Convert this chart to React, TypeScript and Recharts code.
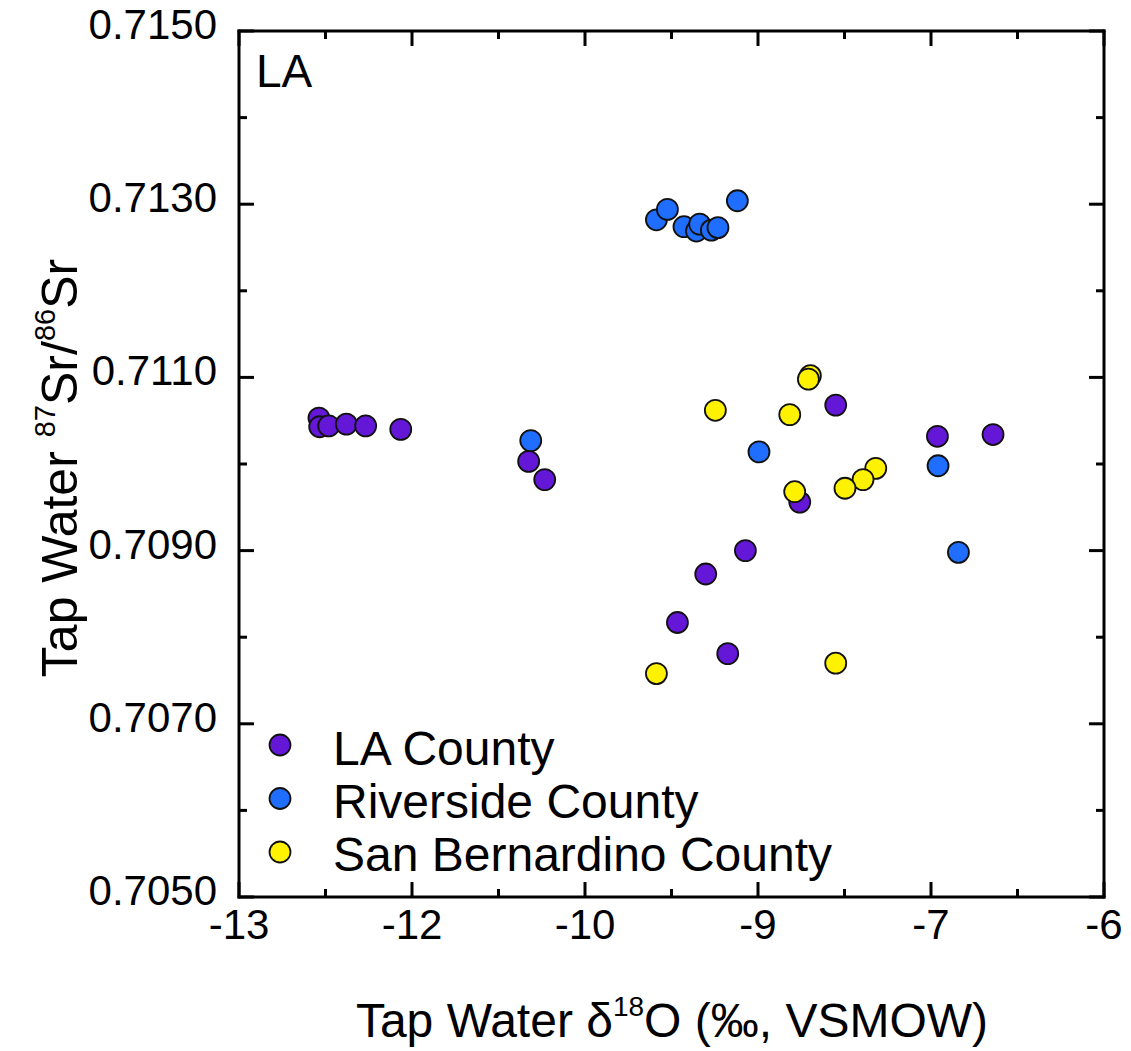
import { Legend, Scatter, ScatterChart, XAxis, YAxis } from 'recharts';

const FONT = '"Liberation Sans", Arial, Helvetica, sans-serif';

// x = tap water d18O, y = 87Sr/86Sr
const laCounty = [
  { x: -12.353, y: 0.71053 },
  { x: -12.347, y: 0.71043 },
  { x: -12.274, y: 0.71044 },
  { x: -12.131, y: 0.71046 },
  { x: -11.975, y: 0.71044 },
  { x: -11.691, y: 0.7104 },
  { x: -10.656, y: 0.71003 },
  { x: -10.526, y: 0.70982 },
  { x: -8.171, y: 0.71068 },
  { x: -7.348, y: 0.71032 },
  { x: -6.898, y: 0.71034 },
  { x: -8.462, y: 0.70956 },
  { x: -8.902, y: 0.709 },
  { x: -9.223, y: 0.70873 },
  { x: -9.452, y: 0.70817 },
  { x: -9.045, y: 0.70781 },
];

const riverside = [
  { x: -9.622, y: 0.71282 },
  { x: -9.533, y: 0.71294 },
  { x: -9.399, y: 0.71274 },
  { x: -9.298, y: 0.71269 },
  { x: -9.272, y: 0.71277 },
  { x: -9.177, y: 0.7127 },
  { x: -9.124, y: 0.71273 },
  { x: -8.967, y: 0.71304 },
  { x: -10.639, y: 0.71027 },
  { x: -8.792, y: 0.71014 },
  { x: -7.343, y: 0.70998 },
  { x: -7.178, y: 0.70898 },
];

const sanBernardino = [
  { x: -8.376, y: 0.71102 },
  { x: -8.392, y: 0.71098 },
  { x: -9.145, y: 0.71062 },
  { x: -8.543, y: 0.71057 },
  { x: -7.847, y: 0.70995 },
  { x: -7.95, y: 0.70982 },
  { x: -8.096, y: 0.70972 },
  { x: -8.503, y: 0.70968 },
  { x: -9.622, y: 0.70758 },
  { x: -8.171, y: 0.7077 },
];

const series = [
  { name: 'LA County', color: '#6517d8', data: laCounty },
  { name: 'Riverside County', color: '#1f6eff', data: riverside },
  { name: 'San Bernardino County', color: '#fff200', data: sanBernardino },
];

const xMajorTicks = [-13, -11.6, -10.2, -8.8, -7.4, -6];
const xMinorTicks = [-12.3, -10.9, -9.5, -8.1, -6.7];
const yMajorTicks = [0.705, 0.707, 0.709, 0.711, 0.713, 0.715];
const yMinorTicks = [0.706, 0.708, 0.71, 0.712, 0.714];

const xTicks = [...xMajorTicks, ...xMinorTicks].sort((a, b) => a - b);
const yTicks = [...yMajorTicks, ...yMinorTicks].sort((a, b) => a - b);

const isMajor = (v: number, majors: number[]) => majors.some((m) => Math.abs(m - v) < 1e-9);

const MAJOR = 15;
const MINOR = 8;

function BottomTick({ x, y, payload }: any) {
  const major = isMajor(payload.value, xMajorTicks);
  return (
    <g>
      <line x1={x} x2={x} y1={y} y2={y - (major ? MAJOR : MINOR)} stroke="#000" strokeWidth={3} />
      {major && (
        <text x={x} y={y + 42} textAnchor="middle" fontSize={42} fontFamily={FONT} fill="#000">
          {Math.round(payload.value)}
        </text>
      )}
    </g>
  );
}

function TopTick({ x, y, payload }: any) {
  const major = isMajor(payload.value, xMajorTicks);
  return <line x1={x} x2={x} y1={y} y2={y + (major ? MAJOR : MINOR)} stroke="#000" strokeWidth={3} />;
}

function LeftTick({ x, y, payload }: any) {
  const major = isMajor(payload.value, yMajorTicks);
  return (
    <g>
      <line x1={x} x2={x + (major ? MAJOR : MINOR)} y1={y} y2={y} stroke="#000" strokeWidth={3} />
      {major && (
        <text x={x - 22} y={y + 8} textAnchor="end" fontSize={42} fontFamily={FONT} fill="#000">
          {payload.value.toFixed(4)}
        </text>
      )}
    </g>
  );
}

function RightTick({ x, y, payload }: any) {
  const major = isMajor(payload.value, yMajorTicks);
  return <line x1={x} x2={x - (major ? MAJOR : MINOR)} y1={y} y2={y} stroke="#000" strokeWidth={3} />;
}

const Dot = (color: string) => (props: any) => (
  <circle cx={props.cx} cy={props.cy} r={10.5} fill={color} stroke="#111" strokeWidth={1.8} />
);

function LegendBox() {
  return (
    <svg width={640} height={170}>
      {series.map((s, i) => (
        <g key={s.name}>
          <circle cx={24} cy={27 + i * 53.5} r={10.5} fill={s.color} stroke="#111" strokeWidth={1.8} />
          <text x={77} y={47 + i * 53} fontSize={48} fontFamily={FONT} fill="#000">
            {s.name}
          </text>
        </g>
      ))}
    </svg>
  );
}

const axisLine = { stroke: '#000', strokeWidth: 3, strokeLinecap: 'square' as const };

export default function App() {
  return (
    <div style={{ position: 'absolute', left: 0, top: 0 }}>
      <ScatterChart width={1131} height={1051} margin={{ top: 0, right: 0, bottom: 0, left: 0 }}>
        <XAxis
          type="number"
          dataKey="x"
          domain={[-13, -6]}
          ticks={xTicks}
          interval={0}
          allowDataOverflow
          height={154}
          axisLine={axisLine}
          tickLine={false}
          tickSize={0}
          tickMargin={0}
          tick={<BottomTick />}
          label={() => (
            <text x={672} y={1037} textAnchor="middle" fontSize={48} fontFamily={FONT} fill="#000">
              Tap Water δ<tspan dy={-21} fontSize={28}>18</tspan>
              <tspan dy={21}>O (‰, VSMOW)</tspan>
            </text>
          )}
        />
        <XAxis
          xAxisId="top"
          orientation="top"
          type="number"
          dataKey="x"
          domain={[-13, -6]}
          ticks={xTicks}
          interval={0}
          allowDataOverflow
          height={31}
          axisLine={axisLine}
          tickLine={false}
          tickSize={0}
          tickMargin={0}
          tick={<TopTick />}
          label={() => (
            <text x={256} y={87} fontSize={46} fontFamily={FONT} fill="#000">
              LA
            </text>
          )}
        />
        <YAxis
          type="number"
          dataKey="y"
          domain={[0.705, 0.715]}
          ticks={yTicks}
          interval={0}
          allowDataOverflow
          width={239}
          axisLine={axisLine}
          tickLine={false}
          tickSize={0}
          tickMargin={0}
          tick={<LeftTick />}
          label={() => (
            <text
              x={77}
              y={468}
              transform="rotate(-90, 77, 468)"
              textAnchor="middle"
              fontSize={50}
              fontFamily={FONT}
              fill="#000"
            >
              Tap Water <tspan dy={-22} fontSize={29}>87</tspan>
              <tspan dy={22}>Sr/</tspan>
              <tspan dy={-22} fontSize={29}>86</tspan>
              <tspan dy={22}>Sr</tspan>
            </text>
          )}
        />
        <YAxis
          yAxisId="right"
          orientation="right"
          type="number"
          dataKey="y"
          domain={[0.705, 0.715]}
          ticks={yTicks}
          interval={0}
          allowDataOverflow
          width={27}
          axisLine={axisLine}
          tickLine={false}
          tickSize={0}
          tickMargin={0}
          tick={<RightTick />}
        />
        <Legend
          layout="vertical"
          align="center"
          verticalAlign="middle"
          wrapperStyle={{ left: 256, top: 718, width: 640, height: 170 }}
          content={() => <LegendBox />}
        />
        {series.map((s) => (
          <Scatter
            key={s.name}
            name={s.name}
            data={s.data}
            fill={s.color}
            shape={Dot(s.color)}
            isAnimationActive={false}
          />
        ))}
      </ScatterChart>
    </div>
  );
}
